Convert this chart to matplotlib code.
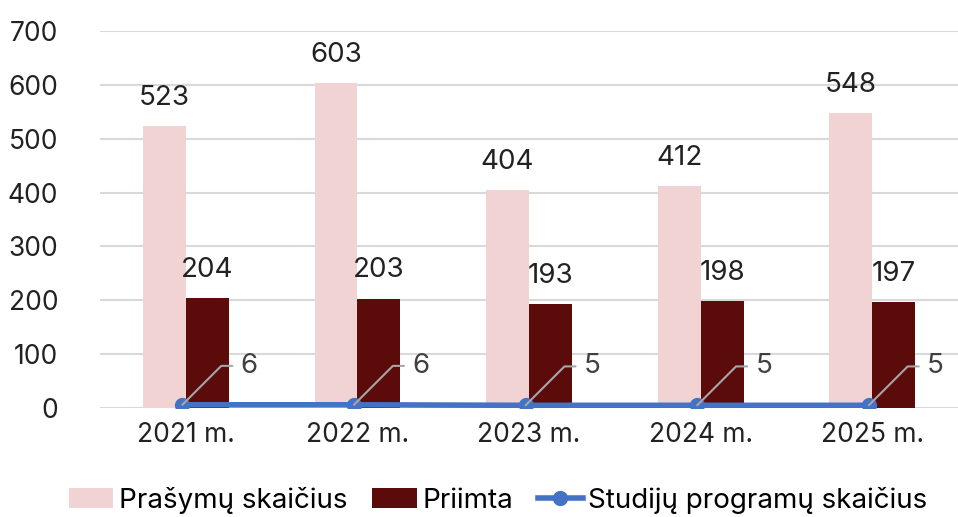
import numpy as np
import matplotlib.pyplot as plt

# Data
years = ['2021 m.', '2022 m.', '2023 m.', '2024 m.', '2025 m.']
prasymu = [523, 603, 404, 412, 548]
priimta = [204, 203, 193, 198, 197]
programos = [6, 6, 5, 5, 5]

PINK = '#F2D3D3'
DARK = '#5C0B0B'
BLUE = '#4472C4'

plt.rcParams['font.family'] = ['Inter', 'DejaVu Sans']

fig = plt.figure(figsize=(9.58, 5.17), dpi=100)
ax = fig.add_axes([100 / 958, 1 - 408 / 517, 858 / 958, 377 / 517])

x = np.arange(len(years))
w = 0.25
b1 = ax.bar(x - w / 2, prasymu, w, color=PINK, label='Prašymų skaičius', zorder=2)
b2 = ax.bar(x + w / 2, priimta, w, color=DARK, label='Priimta', zorder=2)
ln, = ax.plot(x - 0.02, programos, color=BLUE, lw=4, marker='o', ms=10,
              label='Studijų programų skaičius', zorder=3)

for rect, v in zip(b1, prasymu):
    ax.annotate(str(v), (rect.get_x() + rect.get_width() / 2, v), xytext=(0, 11),
                textcoords='offset points', ha='center', va='bottom', fontsize=20, color='#222222')
for rect, v in zip(b2, priimta):
    ax.annotate(str(v), (rect.get_x() + rect.get_width() / 2, v), xytext=(0, 11),
                textcoords='offset points', ha='center', va='bottom', fontsize=20, color='#222222')

# line labels with leader lines
for xi, v in zip(x - 0.02, programos):
    ax.annotate(str(v), (xi, v), xytext=(42, 28), textcoords='offset points',
                ha='left', va='center', fontsize=20, color='#404040', zorder=4,
                arrowprops=dict(arrowstyle='-', color='#A6A6A6', lw=1.5,
                                connectionstyle='angle,angleA=0,angleB=45,rad=0',
                                shrinkA=4, shrinkB=0))

ax.set_xlim(-0.5, 4.5)
ax.set_ylim(0, 700)
ax.set_yticks(range(0, 701, 100))
ax.set_xticks(x)
ax.set_xticklabels(years)
ax.tick_params(axis='both', length=0, labelsize=19, colors='#222222')
ax.tick_params(axis='y', pad=30)
ax.tick_params(axis='x', pad=10)
ax.grid(axis='y', color='#D9D9D9', lw=1.5, zorder=0)
for s in ax.spines.values():
    s.set_visible(False)

fig.legend(handles=[b1, b2, ln], loc='center', bbox_to_anchor=(0.52, 1 - 500 / 517),
           ncol=3, frameon=False, fontsize=20, handlelength=1.6, handletextpad=0.2,
           columnspacing=0.9)

fig.savefig('out.png', dpi=100)
